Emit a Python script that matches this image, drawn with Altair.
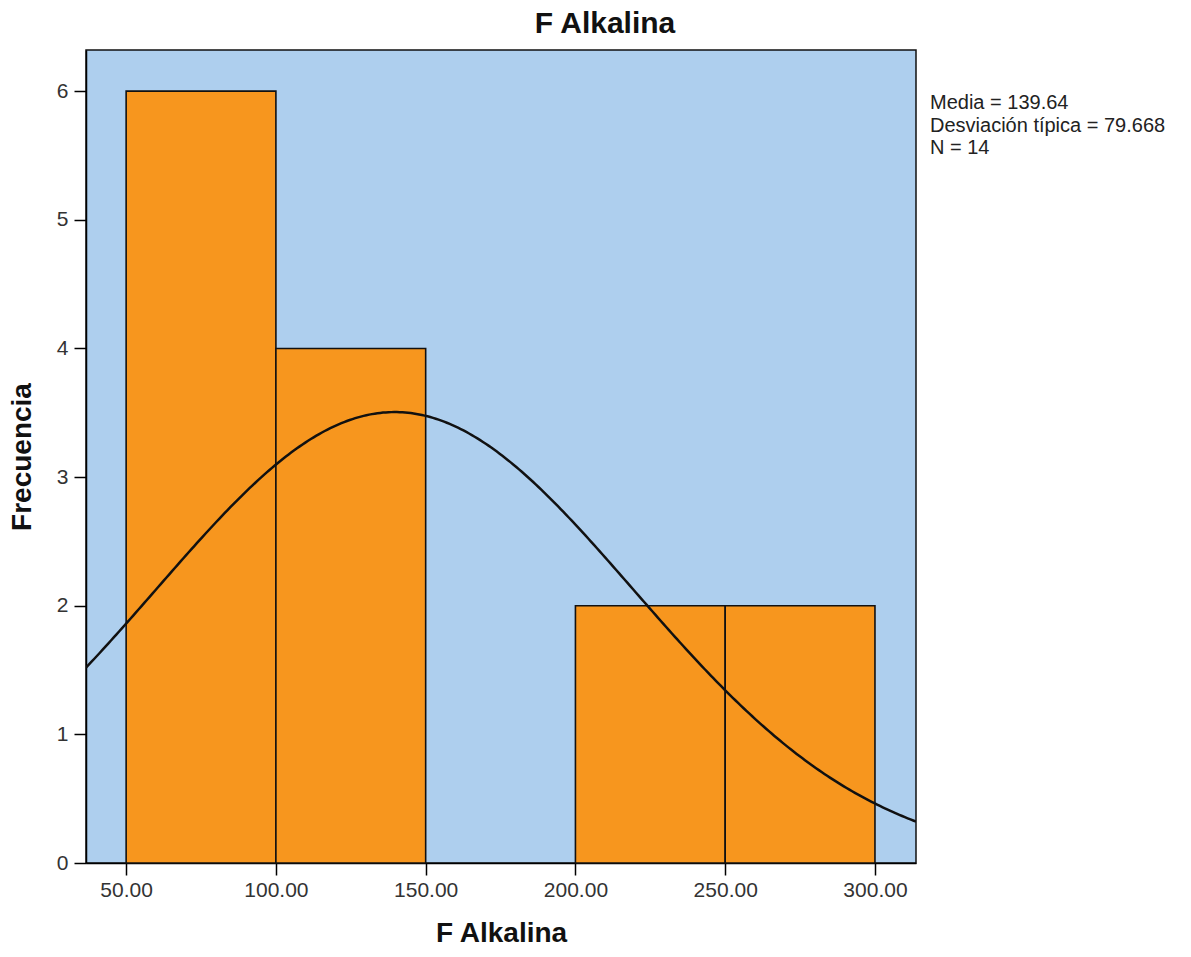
import altair as alt
import pandas as pd
import numpy as np

# Histogram bins (F Alkalina) and frequencies
bin_start = [50, 100, 150, 200, 250]
bin_end = [100, 150, 200, 250, 300]
freq = [6, 4, 0, 2, 2]

# Summary statistics shown in the legend
media = 139.64
desv = 79.668
n = 14
bin_width = 50

x_ticks = [50, 100, 150, 200, 250, 300]
y_ticks = [0, 1, 2, 3, 4, 5, 6]
x_domain = [36.6, 313.7]
y_domain = [0, 6.32]

bars = pd.DataFrame({"start": bin_start, "end": bin_end, "freq": freq})
bars = bars[bars["freq"] > 0]

# Normal curve defined by the stated mean / std dev / N
xs = np.linspace(x_domain[0], x_domain[1], 300)
ys = n * bin_width / (desv * np.sqrt(2 * np.pi)) * np.exp(-0.5 * ((xs - media) / desv) ** 2)
curve = pd.DataFrame({"x": xs, "y": ys})

W, H = 830, 813
font = "Liberation Sans"

xscale = alt.Scale(domain=x_domain, nice=False, zero=False)
yscale = alt.Scale(domain=y_domain, nice=False)

rect = alt.Chart(bars).mark_rect(
    color="#F7961E", stroke="#111111", strokeWidth=1.6
).encode(
    x=alt.X("start:Q", scale=xscale,
            axis=alt.Axis(values=x_ticks, format=".2f", title="F Alkalina",
                          grid=False, tickSize=12, tickColor="#000", domainColor="#000",
                          labelFontSize=21, labelColor="#333", labelFont=font, labelPadding=4,
                          titleFontSize=28, titleFontWeight="bold", titleFont=font,
                          titleColor="#111", titlePadding=19, domainWidth=1.5, tickWidth=1.5)),
    x2="end:Q",
    y=alt.Y("freq:Q", scale=yscale,
            axis=alt.Axis(values=y_ticks, format="d", title="Frecuencia", grid=False, tickSize=12,
                          tickColor="#000", domainColor="#000",
                          labelFontSize=21, labelColor="#333", labelFont=font, labelPadding=6,
                          titleFontSize=28, titleFontWeight="bold", titleFont=font,
                          titleColor="#111", titlePadding=20, domainWidth=1.5, tickWidth=1.5)),
    y2=alt.datum(0),
)

line = alt.Chart(curve).mark_line(color="#111111", strokeWidth=2.5, clip=True).encode(
    x=alt.X("x:Q", scale=xscale),
    y=alt.Y("y:Q", scale=yscale),
)

legend_text = f"Media = {media:.2f}\nDesviación típica = {desv:.3f}\nN = {n}"
legend = alt.Chart(pd.DataFrame({"t": [legend_text]})).mark_text(
    align="left", baseline="top", fontSize=20, font=font, color="#222",
    lineBreak="\n", lineHeight=22.5,
).encode(
    x=alt.value(W + 14),
    y=alt.value(43),
    text="t:N",
)

title = alt.Chart(pd.DataFrame({"t": ["F Alkalina"]})).mark_text(
    align="center", baseline="middle", fontSize=30, font=font, fontWeight="bold", color="#111"
).encode(x=alt.value(519), y=alt.value(-26), text="t:N")

chart = alt.layer(rect, line, legend, title).properties(
    width=W, height=H,
    background="white",
    autosize=alt.AutoSizeParams(type="none"),
    padding={"left": 86, "top": 50, "right": 275, "bottom": 94},
).configure_view(fill="#AECFEE", stroke="#111111", strokeWidth=1.5)

chart.save("out.html", embed_options={"renderer": "svg", "actions": False})
